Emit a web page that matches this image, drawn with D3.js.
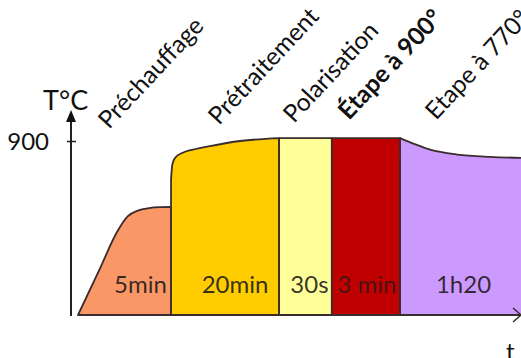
<!DOCTYPE html>
<html><head><meta charset="utf-8">
<script src="https://cdn.jsdelivr.net/npm/d3@7"></script>
<style>
html,body{margin:0;padding:0;background:#fff;overflow:hidden;}
svg{display:block;font-family:Lato,"Open Sans",sans-serif;}
</style></head>
<body>
<svg id="c" width="521" height="358"></svg>
<script>
// ---- data ----
const phases = ["Préchauffage", "Prétraitement", "Polarisation", "Étape à 900°", "Etape à 770°"];
const durations = ["5min", "20min", "30s", "3 min", "1h20"];
const phaseStart = [0, 21, 45.4, 57.3, 72.7];   // schematic time units
const phaseEnd = [21, 45.4, 57.3, 72.7, 103];
const colors = ["#F99766", "#FFCC00", "#FFFF99", "#C00000", "#CC99FF"];
// temperature profile (schematic time, °C) of each phase top edge
const profPre = [[0,0],[5,243],[8.8,429],[11.2,510],[13.5,540],[16,553],[18.5,558],[21,559]];
const profTrait = [[21,700],[21.3,780],[22,815],[23.5,838],[26,856],[29.8,874],[36.6,900],[45.4,915]];
const profPol = [[45.4,915],[57.3,915]];
const prof900 = [[57.3,915],[72.7,915]];
const prof770 = [[72.7,915],[76,884],[79.5,855],[85.6,830],[93,818],[100,813],[103,812]];
const profiles = [profPre, profTrait, profPol, prof900, prof770];
const yTicks = [900];
const yTickLabels = ["900"];

// ---- layout ----
const svg = d3.select("#c");
const x = d3.scaleLinear().domain([0,100]).range([78,521]);
const y = d3.scaleLinear().domain([0,900]).range([315,141]);
const ink = "#3a2c2c";

const topLine = d3.line().x(d=>x(d[0])).y(d=>y(d[1])).curve(d3.curveMonotoneX);

phases.forEach((p,i)=>{
  const t = topLine(profiles[i]).replace(/^M/,"L");
  const d = `M${x(phaseStart[i])},${y(0)}` + t + `L${x(phaseEnd[i])},${y(0)}Z`;
  svg.append("path").attr("d",d).attr("fill",colors[i])
    .attr("stroke",ink).attr("stroke-width",1.8).attr("stroke-linejoin","round");
});

// duration labels
const labelShift = [16, 10, 4, 1, 3];
durations.forEach((t,i)=>{
  svg.append("text").text(t)
    .attr("x",(x(phaseStart[i])+x(Math.min(phaseEnd[i],100)))/2 + labelShift[i])
    .attr("y",293).attr("text-anchor","middle")
    .attr("font-size",24).attr("fill","#1e1a1a").attr("fill-opacity",i===3?0.75:0.9)
    .attr("font-family","Lato");
});

// phase titles (rotated)
const titleX = [109, 219, 294, 349, 436];
const titleY = [130, 126, 124, 121, 121];
phases.forEach((p,i)=>{
  svg.append("text").text(p)
    .attr("transform",`translate(${titleX[i]},${titleY[i]}) rotate(-47)`)
    .attr("font-size",24.5).attr("fill","#111")
    .attr("font-weight", i===3 ? "bold" : "normal");
});

// x axis baseline with open arrow
svg.append("line").attr("x1",x(0)).attr("x2",521).attr("y1",y(0)).attr("y2",y(0))
  .attr("stroke",ink).attr("stroke-width",2);
svg.append("path").attr("d",`M513,${y(0)-7}L521,${y(0)}L513,${y(0)+7}`)
  .attr("fill","none").attr("stroke",ink).attr("stroke-width",1.5);
svg.append("text").text("t").attr("x",506).attr("y",360).attr("font-size",24).attr("fill","#111");

// y axis
const axisX = 71;
svg.append("line").attr("x1",axisX).attr("x2",axisX).attr("y1",y(0)+1).attr("y2",120)
  .attr("stroke","#222").attr("stroke-width",2);
svg.append("path").attr("d",`M${axisX-5},${122}L${axisX},${110}L${axisX+5},${122}Z`).attr("fill","#111");
const ya = svg.append("g").attr("transform",`translate(${axisX},0)`)
  .call(d3.axisLeft(y).tickValues(yTicks).tickFormat((d,i)=>yTickLabels[i]).tickSize(4).tickPadding(18));
ya.select(".domain").remove();
ya.selectAll(".tick line").attr("x2",5).attr("x1",-4).attr("stroke","#222").attr("stroke-width",1.5);
ya.selectAll(".tick text").attr("font-size",24).attr("font-family","Lato").attr("fill","#111").attr("dy","0.36em");
svg.append("text").text("T°C").attr("x",43).attr("y",110).attr("font-size",27).attr("fill","#111");
</script>
</body></html>
